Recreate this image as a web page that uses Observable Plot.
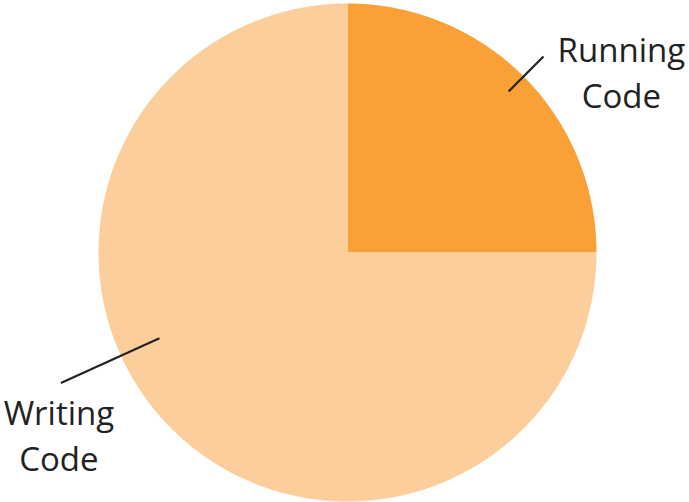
<!DOCTYPE html>
<html>
<head>
<meta charset="utf-8">
<script src="https://cdn.jsdelivr.net/npm/d3@7"></script>
<script src="https://cdn.jsdelivr.net/npm/@observablehq/plot@0.6"></script>
<style>
  html, body { margin: 0; padding: 0; background: #fff; }
  #chart svg { display: block; }
</style>
</head>
<body>
<div id="chart"></div>
<script>
// Data
const categories = ["Running Code", "Writing Code"];
const shares = [25, 75];
const labelLines = [["Running", "Code"], ["Writing", "Code"]];

// Layout / style (not data)
const colors = ["#F9A037", "#FCCE9B"];
const leader = [
  {angleDeg: 45, r0: 0.915, r1: 1.113, tx: 1.100, ty: 0.730},
  {angleDeg: 245.5, r0: 0.83, r1: 1.265, tx: -1.159, ty: -0.727}
];

const pie = d3.pie().sort(null).startAngle(0)(shares);
const polys = [];
pie.forEach((s, i) => {
  const name = categories[i];
  polys.push({name, x: 0, y: 0});
  const n = Math.max(2, Math.ceil((s.endAngle - s.startAngle) / 0.005));
  for (let k = 0; k <= n; k++) {
    const a = s.startAngle + (s.endAngle - s.startAngle) * k / n;
    polys.push({name, x: Math.sin(a), y: Math.cos(a)});
  }
  polys.push({name, x: 0, y: 0});
});

// leader angles measured as d3.pie angles (clockwise from 12 o'clock) in degrees
const links = leader.map((l) => {
  const a = l.angleDeg * Math.PI / 180;
  return {x1: l.r0 * Math.sin(a), y1: l.r0 * Math.cos(a), x2: l.r1 * Math.sin(a), y2: l.r1 * Math.cos(a)};
});
const texts = leader.map((l, i) => ({x: l.tx, y: l.ty, text: labelLines[i].join("\n")}));

const R = 249, cx = 347, cy = 252;
const chart = Plot.plot({
  width: 689,
  height: 502,
  margin: 0,
  style: {background: "#fff", fontFamily: "'Open Sans', sans-serif"},
  x: {domain: [-1, 1], range: [cx - R, cx + R], axis: null},
  y: {domain: [-1, 1], range: [cy + R, cy - R], axis: null},
  color: {domain: categories, range: colors},
  marks: [
    Plot.line(polys, {x: "x", y: "y", z: "name", fill: "name", stroke: null, curve: "linear-closed"}),
    Plot.link(links, {x1: "x1", y1: "y1", x2: "x2", y2: "y2", stroke: "#222", strokeWidth: 2.2}),
    Plot.text(texts, {x: "x", y: "y", text: "text", fontSize: 33, lineHeight: 1.39, fill: "#222", textAnchor: "middle", lineAnchor: "middle"})
  ]
});
document.getElementById("chart").appendChild(chart);
</script>
</body>
</html>
